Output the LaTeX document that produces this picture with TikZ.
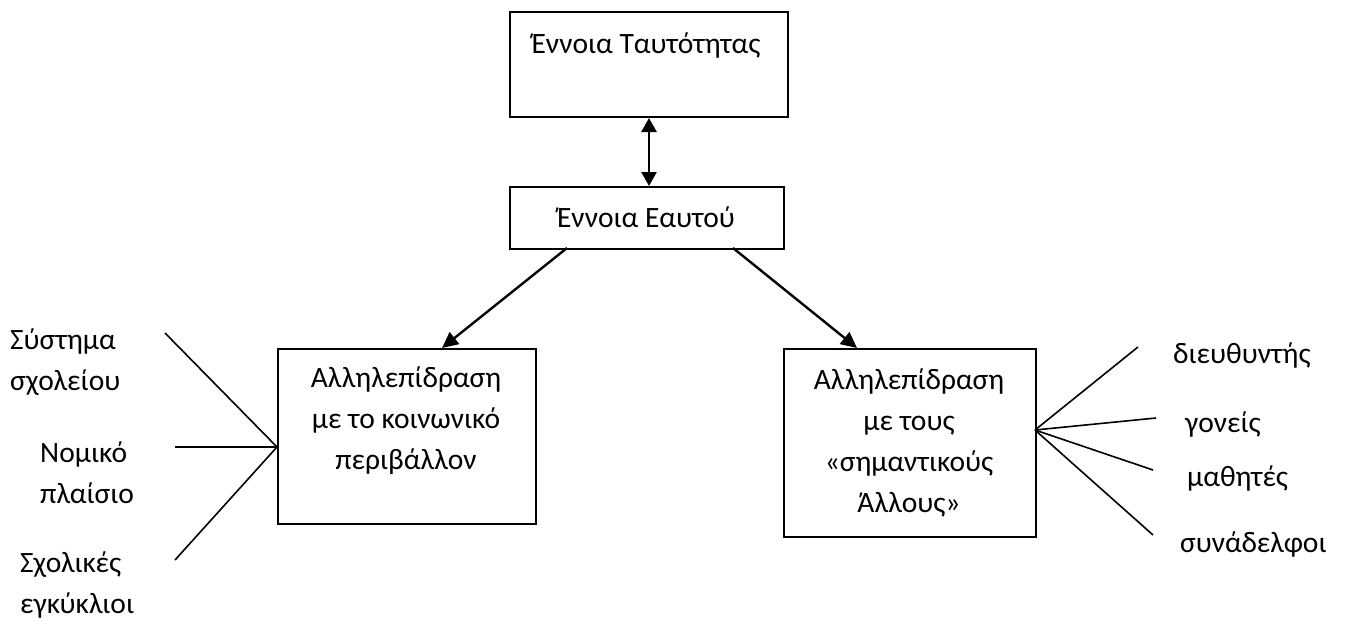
\documentclass[tikz,border=0pt]{standalone}
\usepackage{fontspec}
\setmainfont{Carlito}
\usetikzlibrary{arrows.meta}
\tikzset{
  boxnode/.style={draw, line width=2pt, rectangle, inner sep=0pt, anchor=north west},
  txt/.style={font=\fontsize{29.5}{41}\selectfont, inner sep=0pt, align=center},
  lbl/.style={font=\fontsize{29.5}{41}\selectfont, inner sep=0pt, align=left, anchor=west},
  conn/.style={line width=1.6pt},
  arr/.style={line width=2.4pt, -{Triangle[length=16pt,width=15pt]}},
  darr/.style={line width=2.6pt, {Triangle[length=14pt,width=15pt]}-{Triangle[length=14pt,width=15pt]}}
}
\begin{document}
\begin{tikzpicture}[x=1pt,y=-1pt]
\useasboundingbox (0,0) rectangle (1352,621);
% boxes
\node[boxnode, minimum width=278pt, minimum height=105pt] (top) at (509,11) {};
\node[boxnode, minimum width=274pt, minimum height=62pt] (self) at (509,186) {};
\node[boxnode, minimum width=258pt, minimum height=175pt] (left) at (277,348) {};
\node[boxnode, minimum width=252pt, minimum height=188pt] (right) at (783,348) {};
% box texts
\node[txt] (toptxt) at (646,45) {Έννοια Ταυτότητας};
\node[txt] (selftxt) at (646,217) {Έννοια Εαυτού};
\node[txt] (lefttxt) at (406,421) {Αλληλεπίδραση\\με το κοινωνικό\\περιβάλλον};
\node[txt] (righttxt) at (909,443) {Αλληλεπίδραση\\με τους\\«σημαντικούς\\Άλλους»};
% arrows
\draw[darr] (top.south -| 649,0) -- (self.north -| 649,0);
\coordinate (sl) at (567,248);
\coordinate (sr) at (733,248);
\coordinate (tl) at (442,348);
\coordinate (tr) at (857,348);
\draw[arr] (sl) -- (tl);
\draw[arr] (sr) -- (tr);
% left fan
\coordinate (lc) at (277,447);
\coordinate (l1) at (165,333);
\coordinate (l2) at (175,447);
\coordinate (l3) at (175,560);
\draw[conn] (l1) -- (lc);
\draw[conn] (l2) -- (lc);
\draw[conn] (l3) -- (lc);
% right fan
\coordinate (rc) at (1035,430);
\coordinate (r1) at (1138,347);
\coordinate (r2) at (1156,418);
\coordinate (r3) at (1153,470);
\coordinate (r4) at (1153,535);
\draw[conn] (rc) -- (r1);
\draw[conn] (rc) -- (r2);
\draw[conn] (rc) -- (r3);
\draw[conn] (rc) -- (r4);
% left labels
\node[lbl] (la) at (10,362) {Σύστημα\\σχολείου};
\node[lbl] (lb) at (40,473) {Νομικό\\πλαίσιο};
\node[lbl] (lcx) at (20,585) {Σχολικές\\εγκύκλιοι};
% right labels
\node[lbl] (ra) at (1173,355) {διευθυντής};
\node[lbl] (rb) at (1185,424) {γονείς};
\node[lbl] (rcx) at (1187,478) {μαθητές};
\node[lbl] (rd) at (1180,544) {συνάδελφοι};
\end{tikzpicture}
\end{document}
